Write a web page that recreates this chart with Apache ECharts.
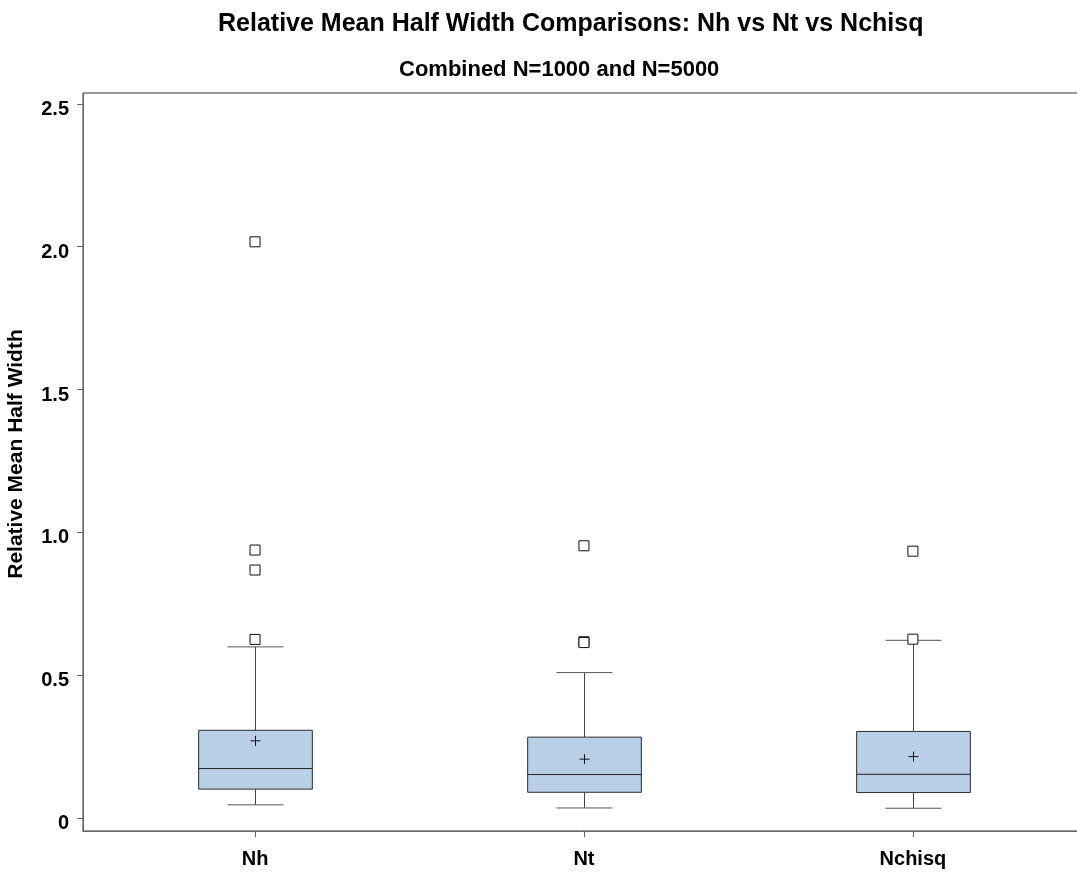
<!DOCTYPE html>
<html>
<head>
<meta charset="utf-8">
<script src="https://cdn.jsdelivr.net/npm/echarts@6/dist/echarts.min.js"></script>
<style>
  html, body { margin: 0; padding: 0; background: #fff; }
  #chart { width: 1077px; height: 876px; }
</style>
</head>
<body>
<div id="chart"></div>
<script>
// Box plot summary per method
const categories = ['Nh', 'Nt', 'Nchisq'];
const whiskerLow = [0.046, 0.035, 0.034];
const q1 = [0.101, 0.090, 0.089];
const median = [0.173, 0.152, 0.153];
const q3 = [0.307, 0.283, 0.303];
const whiskerHigh = [0.599, 0.509, 0.622];
const means = [0.270, 0.206, 0.215];
const outliersNh = [2.017, 0.938, 0.868, 0.625];
const outliersNt = [0.953, 0.617, 0.614];
const outliersNchisq = [0.934, 0.626];
const yTicks = [0, 0.5, 1.0, 1.5, 2.0, 2.5];

const FONT = '"Liberation Sans", Arial, sans-serif';
const BOX_W = 0.3456;   // box width in x units
const CAP_W = 0.17;     // whisker cap width in x units

const boxData = categories.map((c, i) => [i + 1, whiskerLow[i], q1[i], median[i], q3[i], whiskerHigh[i], means[i]]);
const outlierData = [];
[outliersNh, outliersNt, outliersNchisq].forEach((arr, i) => {
  arr.forEach(v => outlierData.push([i + 1, v]));
});

function renderBox(params, api) {
  const x = api.value(0);
  const lo = api.coord([x, api.value(1)]);
  const b1 = api.coord([x, api.value(2)]);
  const md = api.coord([x, api.value(3)]);
  const b3 = api.coord([x, api.value(4)]);
  const hi = api.coord([x, api.value(5)]);
  const mn = api.coord([x, api.value(6)]);
  const halfBox = api.size([BOX_W, 0])[0] / 2;
  const halfCap = api.size([CAP_W, 0])[0] / 2;
  const cx = Math.round(lo[0]) + 0.5;
  const wStyle = { stroke: '#444', lineWidth: 1 };
  const ln = (x1, y1, x2, y2, style) => ({ type: 'line', shape: { x1, y1, x2, y2 }, style });
  return {
    type: 'group',
    children: [
      ln(cx, hi[1], cx, b3[1], wStyle),
      ln(cx, b1[1], cx, lo[1], wStyle),
      ln(cx - halfCap, hi[1], cx + halfCap, hi[1], { stroke: '#555', lineWidth: 1 }),
      ln(cx - halfCap, lo[1], cx + halfCap, lo[1], { stroke: '#555', lineWidth: 1 }),
      {
        type: 'rect',
        shape: { x: cx - halfBox, y: b3[1], width: 2 * halfBox, height: b1[1] - b3[1] },
        style: { fill: '#b9cfe8', stroke: '#2b2b2b', lineWidth: 1 }
      },
      ln(cx - halfBox, md[1], cx + halfBox, md[1], { stroke: '#222', lineWidth: 1 }),
      ln(cx - 5, mn[1], cx + 5, mn[1], { stroke: '#111', lineWidth: 1 }),
      ln(cx, mn[1] - 5, cx, mn[1] + 5, { stroke: '#111', lineWidth: 1 })
    ]
  };
}

const chart = echarts.init(document.getElementById('chart'), null, { renderer: 'canvas' });
chart.setOption({
  animation: false,
  backgroundColor: '#fff',
  title: [
    {
      text: 'Relative Mean Half Width Comparisons: Nh vs Nt vs Nchisq',
      left: 213, top: 7,
      textStyle: { fontFamily: FONT, fontSize: 25, fontWeight: 'bold', color: '#000' }
    },
    {
      text: 'Combined N=1000 and N=5000',
      left: 394, top: 54,
      textStyle: { fontFamily: FONT, fontSize: 22, fontWeight: 'bold', color: '#000' }
    }
  ],
  graphic: [
    {
      type: 'text',
      x: 16, y: 454,
      rotation: Math.PI / 2,
      style: {
        text: 'Relative Mean Half Width',
        fontFamily: FONT, fontSize: 21, fontWeight: 'bold', fill: '#000',
        align: 'center', verticalAlign: 'middle'
      }
    }
  ],
  grid: {
    left: 83, right: -3, top: 93, bottom: 45,
    outerBoundsMode: 'none',
    containLabel: false,
    show: true, borderColor: '#333', borderWidth: 1, backgroundColor: 'transparent'
  },
  xAxis: {
    type: 'value',
    min: 0.477, max: 3.508,
    splitLine: { show: false },
    axisLine: { show: true, onZero: false, lineStyle: { color: '#666', width: 1 } },
    axisTick: { show: true, customValues: [1, 2, 3], length: 6, lineStyle: { color: '#666' } },
    axisLabel: {
      customValues: [1, 2, 3],
      formatter: v => categories[Math.round(v) - 1] || '',
      fontFamily: FONT, fontSize: 20, fontWeight: 'bold', color: '#000', margin: 18
    }
  },
  yAxis: {
    type: 'value',
    min: -0.0456, max: 2.538,
    splitLine: { show: false },
    axisLine: { show: true, onZero: false, lineStyle: { color: '#666', width: 1 } },
    axisTick: { show: true, customValues: yTicks, length: 6, lineStyle: { color: '#666' } },
    axisLabel: {
      customValues: yTicks,
      formatter: v => '{t|' + (v === 0 ? '0' : v.toFixed(1)) + '}',
      margin: 14,
      rich: {
        t: {
          fontFamily: FONT, fontSize: 20, fontWeight: 'bold', color: '#000',
          padding: [11, 0, 0, 0]
        }
      }
    }
  },
  series: [
    {
      type: 'custom',
      renderItem: renderBox,
      data: boxData,
      encode: { x: 0, y: [1, 2, 3, 4, 5, 6] },
      z: 2
    },
    {
      type: 'scatter',
      data: outlierData,
      symbol: 'rect',
      symbolSize: 10,
      itemStyle: { color: '#fff', borderColor: '#111', borderWidth: 1, opacity: 1 },
      z: 3
    }
  ]
});
</script>
</body>
</html>
